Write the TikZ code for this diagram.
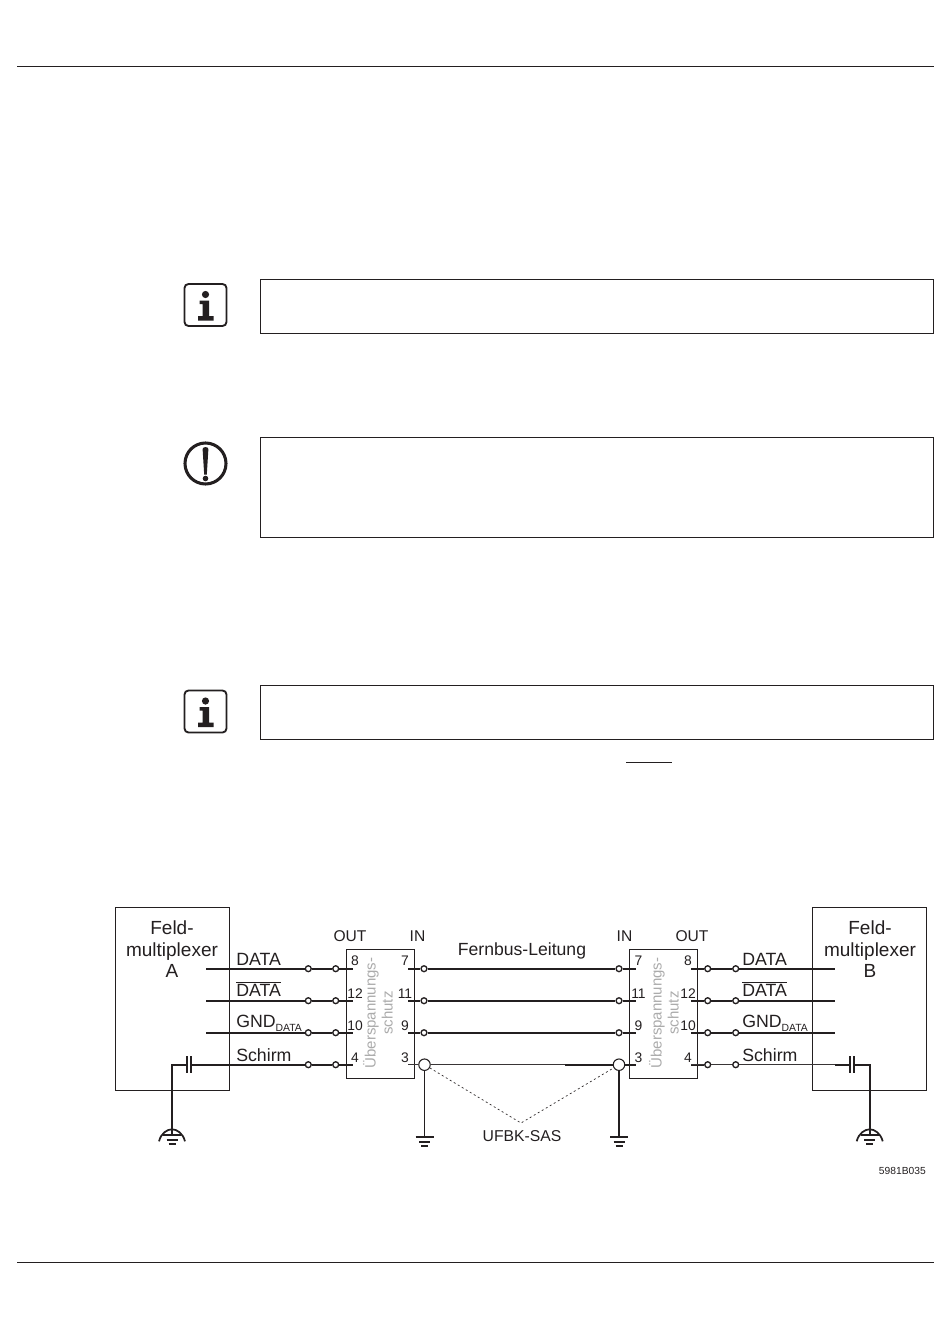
\documentclass[tikz,border=0pt]{standalone}
\usepackage{fontspec}
\setmainfont{Liberation Sans}
\definecolor{ink}{HTML}{231F20}
\definecolor{lettering}{HTML}{ABABAB}
\tikzstyle{box} = [draw=ink,line width=0.8pt,inner sep=0pt]
\tikzstyle{wire} = [draw=ink,line width=1.6pt]
\tikzstyle{thinwire} = [draw=ink!90,line width=1.05pt]
\tikzstyle{term} = [circle,draw=ink,fill=white,line width=1pt,inner sep=0pt,minimum size=4.4pt]
\tikzstyle{shieldterm} = [circle,draw=ink,fill=white,line width=0.8pt,inner sep=0pt,minimum size=8.6pt]
\tikzstyle{pin} = [text=ink,inner sep=0pt,font=\fontsize{10.4}{12}\selectfont]
\tikzstyle{signal} = [text=ink,inner sep=0pt,anchor=base west,font=\fontsize{13.3}{15}\selectfont]
\tikzstyle{side} = [text=ink,inner sep=0pt,anchor=base,font=\fontsize{11.7}{14}\selectfont]
\tikzstyle{device} = [text=ink,inner sep=0pt,anchor=north,align=center,font=\fontsize{14.25}{16}\selectfont]
\tikzstyle{guard} = [text=lettering,inner sep=0pt,rotate=90,align=center,font=\fontsize{11.25}{12.75}\selectfont]
\newcommand{\overdata}{$\overline{\mbox{DATA}}$}
\newcommand{\subdata}{\raisebox{-3pt}{\fontsize{7.8}{8}\selectfont DATA}}
\tikzset{
	earth/.pic={
		\draw[ink,line width=1.4pt] (-9,0) -- (9,0);
		\draw[ink,line width=1.4pt] (-5.5,4.5) -- (5.5,4.5);
		\draw[ink,line width=1.4pt] (-3.5,9) -- (3.5,9);
	},
	dome/.pic={
		\draw[ink,line width=1.3pt] (-13,6) .. controls (-11,-2) and (-5,-6) .. (0,-6) .. controls (5,-6) and (11,-2) .. (13,6);
	},
	infoicon/.pic={
		\draw[ink,line width=1.4pt,rounded corners=3pt] (-21,-21) rectangle (21,21);
		\fill[ink] (0,-10.5) circle (3.6);
		\fill[ink] (-6,-4.5) -- (3.5,-4.5) -- (3.5,11) -- (8,11) -- (8,15.5) -- (-7.5,15.5) -- (-7.5,11) -- (-3,11) -- (-3,-1) -- (-6,-1) -- cycle;
	}
}
\begin{document}
\begin{tikzpicture}[x=0.75pt,y=-0.75pt]
	\useasboundingbox (0,0) rectangle (950,1324);
	% page rules and note frames
	\coordinate (ruleTa) at (17,66.4);
	\coordinate (ruleTb) at (934,66.4);
	\coordinate (ruleBa) at (17,1262.4);
	\coordinate (ruleBb) at (934,1262.4);
	\draw[ink,line width=0.9pt] (ruleTa) -- (ruleTb);
	\draw[ink,line width=0.9pt] (ruleBa) -- (ruleBb);
	\draw[box] (260.5,279.5) rectangle (933.5,333.5);
	\draw[box] (260.5,437.5) rectangle (933.5,537.5);
	\draw[box] (260.5,685.5) rectangle (933.5,739.5);
	\draw[ink,line width=0.8pt] (626,762.3) -- (672,762.3);
	% icons
	\pic at (205.5,305) {infoicon};
	\pic at (205.5,711.5) {infoicon};
	\draw[ink,line width=2.3pt] (205.5,463.5) circle (20.5);
	\fill[ink] (202.6,449) .. controls (202.6,446.5) and (208.4,446.5) .. (208.4,449) -- (206.8,474.5) -- (204.2,474.5) -- cycle;
	\fill[ink] (205.5,478.5) circle (2.8);
	% boxes
	\draw[box] (115.4,907.4) rectangle (229.4,1090.3);
	\draw[box] (812.4,907.4) rectangle (926.6,1090.3);
	\draw[box] (346.4,949.4) rectangle (414.4,1078.3);
	\draw[box] (629.4,949.4) rectangle (697.4,1078.3);
	% wires, one row per signal
	\foreach \row/\y in {1/968.7,2/1000.7,3/1032.7,4/1064.7}{
		\coordinate (la\row) at (206.3,\y);
		\node[term] (lb\row) at (308.3,\y) {};
		\node[term] (lc\row) at (335.7,\y) {};
		\coordinate (ld\row) at (353,\y);
		\coordinate (le\row) at (408.3,\y);
		\coordinate (rb\row) at (635.7,\y);
		\coordinate (rc\row) at (691,\y);
		\node[term] (rd\row) at (707.7,\y) {};
		\node[term] (re\row) at (735.7,\y) {};
		\coordinate (rf\row) at (835,\y);
		\draw[wire] (lb\row) -- (lc\row);
		\draw[wire] (lc\row) -- (ld\row);
		\draw[wire] (rc\row) -- (rd\row);
	}
	\foreach \row/\y in {1/968.7,2/1000.7,3/1032.7}{
		\node[term] (lf\row) at (424,\y) {};
		\node[term] (ra\row) at (619,\y) {};
		\draw[wire] (la\row) -- (lb\row);
		\draw[wire] (le\row) -- (lf\row);
		\draw[wire] (lf\row) -- (ra\row);
		\draw[wire] (ra\row) -- (rb\row);
		\draw[wire] (rd\row) -- (re\row);
		\draw[wire] (re\row) -- (rf\row);
	}
	% shield row
	\node[shieldterm] (sa) at (424.5,1064.7) {};
	\node[shieldterm] (sb) at (619,1064.7) {};
	\coordinate (sm) at (565,1064.7);
	\coordinate (capAa) at (187.3,1064.7);
	\coordinate (capAb) at (191.3,1064.7);
	\coordinate (capBa) at (850.3,1064.7);
	\coordinate (capBb) at (854.3,1064.7);
	\coordinate (bendA) at (172,1064.7);
	\coordinate (bendB) at (869.7,1064.7);
	\coordinate (earthA) at (172,1135.3);
	\coordinate (earthB) at (869.7,1135.3);
	\coordinate (earthC) at (424.5,1137.3);
	\coordinate (earthD) at (619,1137.3);
	\coordinate (apex) at (521,1123);
	\draw[wire] (capAb) -- (lb4);
	\draw[thinwire] (le4) -- (sa);
	\draw[thinwire] (sa) -- (sm);
	\draw[wire] (sm) -- (sb);
	\draw[wire] (sb) -- (rb4);
	\draw[thinwire] (rc4) -- (rd4);
	\draw[thinwire] (rd4) -- (re4);
	\draw[thinwire] (re4) -- (rf4);
	\draw[wire] (rf4) -- (capBa);
	\draw[wire,line width=1.3pt] (capAa) -- (bendA) -- (earthA);
	\draw[wire,line width=1.3pt] (capBb) -- (bendB) -- (earthB);
	\draw[wire,line width=1.4pt] (sa) -- (earthC);
	\draw[wire,line width=1.4pt] (sb) -- (earthD);
	\draw[ink,line width=1.5pt] (187.3,1056) -- (187.3,1072.7);
	\draw[ink,line width=1.5pt] (191.3,1056) -- (191.3,1072.7);
	\draw[ink,line width=1.5pt] (850.3,1056) -- (850.3,1072.7);
	\draw[ink,line width=1.5pt] (854.3,1056) -- (854.3,1072.7);
	\draw[ink,line width=0.5pt,dash pattern=on 1.5pt off 2pt] (sa) -- (apex) -- (sb);
	\pic at (earthA) {earth};
	\pic at (earthB) {earth};
	\pic at (earthC) {earth};
	\pic at (earthD) {earth};
	\pic at (earthA) {dome};
	\pic at (earthB) {dome};
	% texts
	\node[device] (nameA) at (172,920.8) {Feld-\\multiplexer\\A};
	\node[device] (nameB) at (870,920.8) {Feld-\\multiplexer\\B};
	\node[guard] (guardA) at (378,1013) {Überspannungs-\\schutz};
	\node[guard] (guardB) at (664,1013) {Überspannungs-\\schutz};
	\node[side] (outA) at (350,941) {OUT};
	\node[side] (inA) at (417.5,941) {IN};
	\node[side] (inB) at (624.5,941) {IN};
	\node[side] (outB) at (692,941) {OUT};
	\node[text=ink,inner sep=0pt,anchor=base,font=\fontsize{13.2}{15}\selectfont] (bus) at (522,955) {Fernbus-Leitung};
	\node[side,font=\fontsize{11.8}{14}\selectfont] (sas) at (522,1141) {UFBK-SAS};
	\node[text=ink,inner sep=0pt,anchor=base east,font=\fontsize{7.7}{9}\selectfont] (code) at (926,1174) {5981B035};
	\foreach \x/\n in {236/la,742/rf}{
		\node[signal] (\n sa) at (\x,965) {DATA};
		\node[signal] (\n sb) at (\x,996.7) {\overdata};
		\node[signal] (\n sc) at (\x,1027) {GND\subdata};
		\node[signal] (\n sd) at (\x,1061) {Schirm};
	}
	\foreach \x/\s/\a/\b/\c/\d in {355/pa/8/12/10/4,405/pb/7/11/9/3,638.5/pc/7/11/9/3,688/pd/8/12/10/4}{
		\node[pin] (\s a) at (\x,961) {\a};
		\node[pin] (\s b) at (\x,994) {\b};
		\node[pin] (\s c) at (\x,1026) {\c};
		\node[pin] (\s d) at (\x,1058) {\d};
	}
\end{tikzpicture}
\end{document}
